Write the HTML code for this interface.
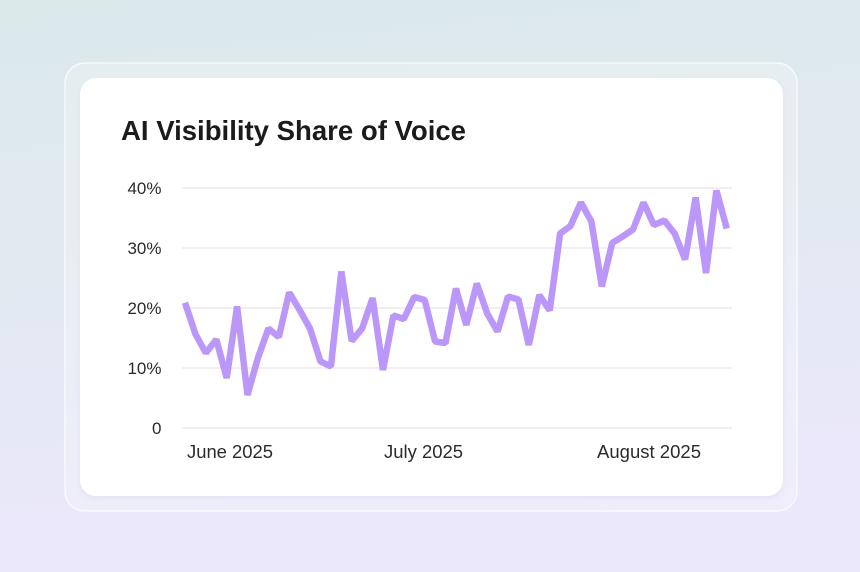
<!DOCTYPE html>
<html>
<head>
<meta charset="utf-8">
<style>
  html,body{margin:0;padding:0;width:860px;height:572px;overflow:hidden;}
  body{background:linear-gradient(180deg,#dde9ec 0%,#e2e9f0 45%,#ebe8fb 100%);}
  svg{display:block;}
</style>
</head>
<body>
<svg width="860" height="572" viewBox="0 0 860 572" xmlns="http://www.w3.org/2000/svg">
  <defs>
    <linearGradient id="bg" x1="0" y1="0" x2="0.15" y2="1">
      <stop offset="0" stop-color="#dbe9eb"/>
      <stop offset="0.5" stop-color="#e2e9f1"/>
      <stop offset="1" stop-color="#ece8fc"/>
    </linearGradient>
    <filter id="sh" x="-5%" y="-5%" width="110%" height="115%">
      <feDropShadow dx="0" dy="2" stdDeviation="3" flood-color="#8a90b0" flood-opacity="0.12"/>
    </filter>
  </defs>
  <rect x="0" y="0" width="860" height="572" fill="url(#bg)"/>
  <!-- outer frame -->
  <rect x="65" y="63" width="732" height="448" rx="20" ry="20" fill="#ffffff" fill-opacity="0.22" stroke="#ffffff" stroke-opacity="0.85" stroke-width="1.2"/>
  <!-- card -->
  <rect x="80" y="78" width="703" height="418" rx="16" ry="16" fill="#ffffff" filter="url(#sh)"/>
  <!-- title -->
  <text x="121" y="140" font-family="'Liberation Sans', sans-serif" font-weight="bold" font-size="27.5" fill="#1b1b1d" textLength="345" lengthAdjust="spacingAndGlyphs">AI Visibility Share of Voice</text>
  <!-- grid -->
  <g stroke="#eee9f1" stroke-width="1.6">
    <line x1="182" y1="188" x2="732" y2="188"/>
    <line x1="182" y1="248" x2="732" y2="248"/>
    <line x1="182" y1="308" x2="732" y2="308"/>
    <line x1="182" y1="368" x2="732" y2="368"/>
    <line x1="182" y1="428" x2="732" y2="428"/>
  </g>
  <!-- y labels -->
  <g font-family="'Liberation Sans', sans-serif" font-size="17" fill="#2b2b2e" text-anchor="end">
    <text x="161.5" y="194">40%</text>
    <text x="161.5" y="254">30%</text>
    <text x="161.5" y="314">20%</text>
    <text x="161.5" y="374">10%</text>
    <text x="161.5" y="434">0</text>
  </g>
  <!-- x labels -->
  <g font-family="'Liberation Sans', sans-serif" font-size="18" fill="#2b2b2e">
    <text x="187" y="458" textLength="86" lengthAdjust="spacingAndGlyphs">June 2025</text>
    <text x="384" y="458" textLength="79" lengthAdjust="spacingAndGlyphs">July 2025</text>
    <text x="597" y="458" textLength="104" lengthAdjust="spacingAndGlyphs">August 2025</text>
  </g>
  <!-- series -->
  <polyline fill="none" stroke="#bb97fa" stroke-width="6.5" stroke-linejoin="bevel" stroke-linecap="butt"
    points="185,302.7 195.4,334 205.8,353 216.3,339.5 226.7,378 237.1,306.5 247.5,395 257.9,358 268.4,328.5 278.8,337 289.2,292.5 299.6,310 310,328.5 320.5,361.5 330.9,366.5 341.3,271.5 351.7,341 362.1,328.5 372.6,298 383,370 393.4,315.5 403.8,319 414.2,297 424.7,300 435.1,341.5 445.5,343 455.9,288.5 466.3,325 476.8,283.5 487.2,313.5 497.6,331.5 508,296.5 518.4,299.5 528.8,345 539.3,295 549.7,310.5 560.1,233.5 570.5,226 580.9,202.5 591.4,221.5 601.8,286.5 612.2,243 622.6,236.5 633,229.5 643.5,202.5 653.9,225 664.3,220.5 674.7,233.5 685.1,259.5 695.6,197.5 706,273 716.4,190.5 726.8,228.5"/>
</svg>
</body>
</html>
